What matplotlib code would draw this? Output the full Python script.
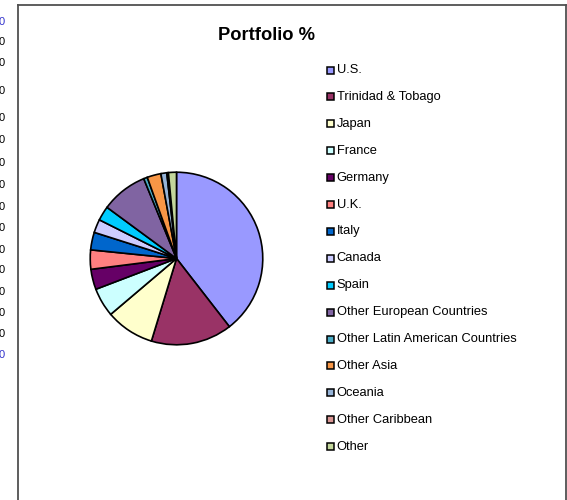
#!/usr/bin/env python3
# -*- coding: utf-8 -*-
"""Portfolio % pie chart (spreadsheet style), saved as out.png."""

import matplotlib
matplotlib.use("Agg")
import matplotlib.pyplot as plt
from matplotlib.patches import Rectangle
from matplotlib.lines import Line2D

plt.rcParams['font.family'] = ['Liberation Sans', 'DejaVu Sans']

# ---------------- Data ----------------
TITLE = "Portfolio %"
countries = ["U.S.", "Trinidad & Tobago", "Japan", "France", "Germany", "U.K.",
             "Italy", "Canada", "Spain", "Other European Countries",
             "Other Latin American Countries", "Other Asia", "Oceania",
             "Other Caribbean", "Other"]
shares = [39.5, 15.2, 9.1, 5.4, 3.8, 3.6, 3.3, 2.5, 2.7, 8.7, 0.7, 2.6, 1.1, 0.3, 1.5]
colors = ["#9999FF", "#993366", "#FFFFCC", "#CCFFFF", "#660066", "#FF8080",
          "#0066CC", "#CCCCFF", "#00CCFF", "#8064A2", "#4BACC6", "#F79646",
          "#95B3D7", "#D99694", "#C3D69B"]

# clipped cell text peeking in at the left edge (y in px)
edge_marks_y = [22, 42, 63, 91, 118, 140, 163, 185, 207, 228, 250, 270, 292, 313, 334, 355]

# ---------------- Layout (pixels) ----------------
W, H = 567, 500
CX, CY, R = 176.5, 258.5, 88.0

def fx(px): return px / W
def fy(py): return 1.0 - py / H

fig = plt.figure(figsize=(W/100, H/100), dpi=100)
fig.patch.set_facecolor("white")

# chart frame (runs off the bottom of the picture)
frame_kw = dict(color="#505050", lw=1.3, transform=fig.transFigure)
fig.add_artist(Line2D([fx(18), fx(18)], [fy(5), fy(505)], **frame_kw))
fig.add_artist(Line2D([fx(18), fx(565.5)], [fy(5), fy(5)], **frame_kw))
fig.add_artist(Line2D([fx(565.5), fx(565.5)], [fy(5), fy(505)], **frame_kw))

# pie
ax = fig.add_axes([fx(CX - R), fy(CY + R), 2*R/W, 2*R/H])
wedges, _ = ax.pie(shares, colors=colors, startangle=90, counterclock=False,
                   radius=1.0, wedgeprops=dict(edgecolor="black", linewidth=1.2))
ax.set_xlim(-1.02, 1.02); ax.set_ylim(-1.02, 1.02)
ax.set_aspect("equal")
ax.axis("off")

# title
fig.text(fx(267), fy(36), TITLE, ha="center", va="center",
         fontsize=13.2, fontweight="bold")

# legend, drawn entry by entry
for i, (name, col) in enumerate(zip(countries, colors)):
    y = 70 + 26.9 * i
    fig.add_artist(Rectangle((fx(326.5), fy(y + 3.5)), 7/W, 7/H,
                             facecolor=col, edgecolor="black", lw=1.1,
                             transform=fig.transFigure))
    fig.text(fx(336.5), fy(y), name, ha="left", va="center", fontsize=9.3)

# clipped marks at the far left
for i, y in enumerate(edge_marks_y):
    c = "#3333CC" if i in (0, len(edge_marks_y) - 1) else "black"
    fig.text(fx(4.5), fy(y), "0", ha="right", va="center", fontsize=8, color=c)

fig.savefig("out.png", dpi=100)
